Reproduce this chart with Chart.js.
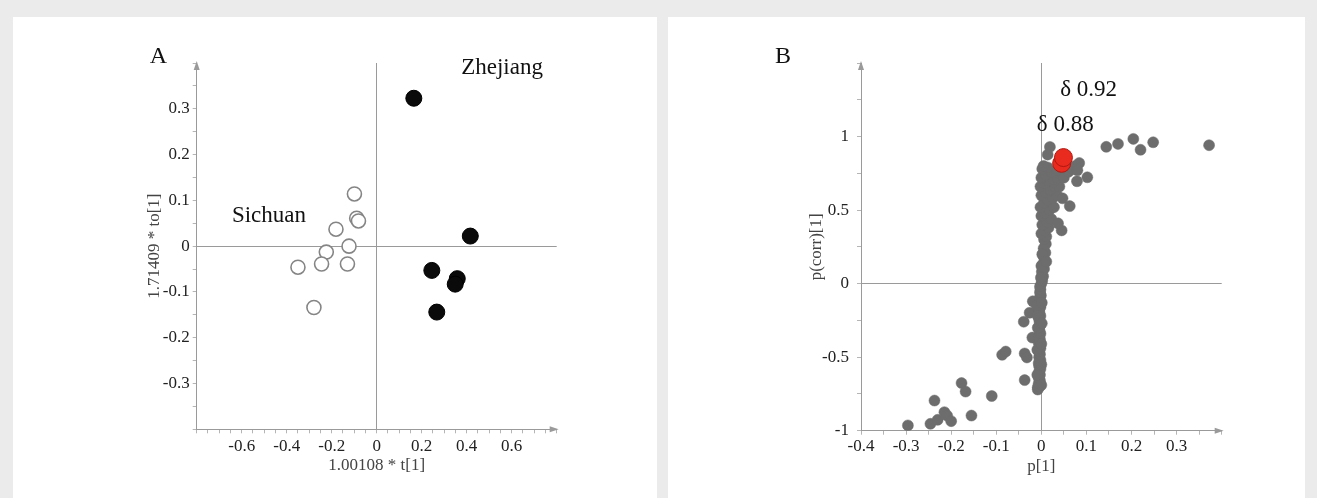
<!DOCTYPE html>
<html>
<head>
<meta charset="utf-8">
<script src="https://cdn.jsdelivr.net/npm/chart.js@4.4.1/dist/chart.umd.min.js"></script>
<style>
  html, body { margin: 0; padding: 0; }
  body { width: 1317px; height: 498px; background: #ebebeb; position: relative; overflow: hidden; }
  .panel { position: absolute; top: 17px; height: 481px; background: #fff; }
  #panelA { left: 13px; width: 644px; }
  #panelB { left: 668px; width: 637px; }
  canvas { display: block; }
</style>
</head>
<body>
<div class="panel" id="panelA"><canvas id="chartA" width="644" height="481"></canvas></div>
<div class="panel" id="panelB"><canvas id="chartB" width="637" height="481"></canvas></div>
<script>
// Panel A: OPLS-DA scores
const sichuanT  = [-0.099, -0.089, -0.081, -0.181, -0.123, -0.224, -0.245, -0.130, -0.350, -0.279];
const sichuanTo = [0.114, 0.061, 0.055, 0.037, 0.000, -0.013, -0.039, -0.039, -0.046, -0.134];
const zhejiangT  = [0.165, 0.416, 0.245, 0.358, 0.349, 0.267];
const zhejiangTo = [0.323, 0.022, -0.053, -0.071, -0.083, -0.144];

// Panel B: S-plot, [p[1], p(corr)[1]]
const sPlotPoints = [
  // lower tail
  [-0.296, -0.964], [-0.246, -0.953], [-0.230, -0.926], [-0.237, -0.795], [-0.215, -0.874],
  [-0.209, -0.897], [-0.200, -0.935], [-0.177, -0.676], [-0.168, -0.734], [-0.155, -0.897],
  [-0.110, -0.764], [-0.087, -0.484], [-0.079, -0.462], [-0.037, -0.656], [-0.037, -0.475],
  [-0.032, -0.502], [-0.020, -0.367], [-0.039, -0.259], [-0.026, -0.198], [-0.019, -0.120],
  [-0.008, -0.705],
  // central column below zero
  [-0.008, -0.72], [-0.004, -0.70], [-0.006, -0.68], [-0.003, -0.66], [-0.006, -0.64],
  [-0.003, -0.62], [-0.005, -0.60], [-0.002, -0.58], [-0.005, -0.56], [-0.006, -0.54],
  [-0.002, -0.52], [-0.005, -0.50], [-0.003, -0.48], [-0.006, -0.46], [-0.002, -0.44],
  [-0.004, -0.42], [-0.006, -0.40], [-0.003, -0.38], [-0.005, -0.36], [-0.002, -0.34],
  [-0.004, -0.32], [-0.006, -0.30], [-0.002, -0.28], [-0.004, -0.26], [-0.005, -0.24],
  [-0.002, -0.22], [-0.004, -0.20], [-0.005, -0.18], [-0.002, -0.16], [-0.004, -0.14],
  [-0.003, -0.12], [-0.004, -0.10], [-0.001, -0.08], [-0.003, -0.06], [-0.002, -0.04],
  [-0.003, -0.02], [0.000, 0.00], [-0.009, -0.62], [-0.009, -0.45], [-0.008, -0.30],
  [-0.010, -0.15], [-0.008, -0.22], [0.000, -0.69], [0.000, -0.55], [0.000, -0.41],
  [0.001, -0.27], [0.001, -0.13],
  // column above zero
  [0.002, 0.02], [0.004, 0.05], [0.001, 0.08], [0.006, 0.10], [0.003, 0.13],
  [0.007, 0.16], [0.004, 0.19], [0.009, 0.21], [0.005, 0.24], [0.010, 0.27],
  [0.006, 0.30], [0.011, 0.32], [-0.001, 0.04], [0.000, 0.12], [0.002, 0.20],
  [0.011, 0.15],
  // upper cluster
  [0.000, 0.34], [0.008, 0.36], [0.016, 0.38], [0.002, 0.40], [0.012, 0.42],
  [0.022, 0.44], [0.000, 0.46], [0.008, 0.48], [0.018, 0.50], [0.028, 0.52],
  [-0.002, 0.52], [0.006, 0.55], [0.014, 0.57], [0.025, 0.58], [0.035, 0.60],
  [0.000, 0.60], [0.010, 0.62], [0.020, 0.64], [0.030, 0.66], [0.040, 0.66],
  [-0.002, 0.66], [0.006, 0.68], [0.016, 0.70], [0.026, 0.71], [0.036, 0.72],
  [0.050, 0.72], [0.000, 0.72], [0.010, 0.74], [0.022, 0.76], [0.034, 0.77],
  [0.060, 0.76], [0.070, 0.78], [0.002, 0.78], [0.014, 0.79], [0.045, 0.79],
  [0.075, 0.80], [0.005, 0.80], [0.045, 0.362], [0.037, 0.41], [0.063, 0.527],
  [0.047, 0.58], [0.079, 0.696], [0.102, 0.723], [0.084, 0.82], [0.080, 0.77],
  [0.019, 0.929], [0.014, 0.877],
  // upper tail
  [0.144, 0.930], [0.170, 0.950], [0.204, 0.984], [0.220, 0.910], [0.248, 0.961],
  [0.372, 0.941]
];
const highlightPoints = [[0.045, 0.818], [0.049, 0.857]];

const serif = "'Liberation Serif', 'Times New Roman', serif";

function toXY(pairs) {
  return pairs.map(p => ({ x: p[0], y: p[1] }));
}
function zip(xs, ys) {
  return xs.map((x, i) => ({ x: x, y: ys[i] }));
}
function isMultiple(v, step) {
  const r = v / step;
  return Math.abs(r - Math.round(r)) < 1e-6;
}
function fmt(v) {
  const r = Math.round(v * 100) / 100;
  return String(r === 0 ? 0 : r);
}

// arrowheads at the end of both axes
const axisArrows = {
  id: 'axisArrows',
  afterDraw(chart) {
    const { ctx, chartArea: a } = chart;
    ctx.save();
    ctx.fillStyle = '#9a9a9a';
    ctx.beginPath();
    ctx.moveTo(a.left, a.top - 2);
    ctx.lineTo(a.left - 3, a.top + 7);
    ctx.lineTo(a.left + 3, a.top + 7);
    ctx.closePath();
    ctx.fill();
    ctx.beginPath();
    ctx.moveTo(a.right + 2, a.bottom);
    ctx.lineTo(a.right - 7, a.bottom - 3);
    ctx.lineTo(a.right - 7, a.bottom + 3);
    ctx.closePath();
    ctx.fill();
    ctx.restore();
  }
};

// panel letter and text notes
const panelText = {
  id: 'panelText',
  afterDraw(chart, args, opts) {
    const { ctx, chartArea: a, scales } = chart;
    ctx.save();
    ctx.fillStyle = '#111';
    ctx.textBaseline = 'alphabetic';
    ctx.font = '24px ' + serif;
    ctx.textAlign = 'left';
    ctx.fillText(opts.letter, a.left + opts.letterDx, a.top);
    ctx.font = opts.noteSize + 'px ' + serif;
    ctx.textAlign = 'center';
    opts.notes.forEach(n => {
      ctx.fillText(n.text, scales.x.getPixelForValue(n.x), scales.y.getPixelForValue(n.y));
    });
    ctx.restore();
  }
};

function axis(min, max, step, labelStep, hideBelow, hideAbove, title, titlePad, tickPad, fixed, isX) {
  return {
    type: 'linear',
    min: min,
    max: max,
    afterFit: s => { if (isX) s.height = fixed; else s.width = fixed; },
    border: { color: '#9a9a9a', width: 1 },
    grid: {
      color: c => (c.tick && Math.abs(c.tick.value) < 1e-9) ? '#9a9a9a' : 'rgba(0,0,0,0)',
      tickColor: '#b5b5b5',
      tickLength: 4,
      lineWidth: 1
    },
    ticks: {
      stepSize: step,
      autoSkip: false,
      maxRotation: 0,
      padding: tickPad,
      color: '#222',
      font: { family: serif, size: 17 },
      callback: v => (isMultiple(v, labelStep) && v > hideBelow && v < hideAbove) ? fmt(v) : ''
    },
    title: {
      display: true,
      text: title,
      color: '#444',
      padding: isX ? { top: 0, bottom: titlePad } : { top: titlePad, bottom: 0 },
      font: { family: serif, size: 17 }
    }
  };
}

Chart.defaults.font.family = serif;

new Chart(document.getElementById('chartA').getContext('2d'), {
  type: 'scatter',
  data: {
    datasets: [{
      label: 'Zhejiang',
      data: zip(zhejiangT, zhejiangTo),
      pointRadius: 8,
      backgroundColor: '#0a0a0a',
      borderColor: '#000',
      borderWidth: 1
    }, {
      label: 'Sichuan',
      data: zip(sichuanT, sichuanTo),
      pointRadius: 7,
      backgroundColor: '#fff',
      borderColor: '#858585',
      borderWidth: 1.6
    }]
  },
  options: {
    responsive: false,
    animation: false,
    layout: { padding: { left: 123.7, right: 100.3, top: 46, bottom: 18.7 } },
    plugins: {
      legend: { display: false },
      tooltip: { enabled: false },
      panelText: {
        letter: 'A',
        letterDx: -47,
        noteSize: 23,
        notes: [
          { text: 'Zhejiang', x: 0.557, y: 0.375 },
          { text: 'Sichuan', x: -0.479, y: 0.052 }
        ]
      }
    },
    scales: {
      x: axis(-0.8, 0.8, 0.05, 0.2, -0.75, 0.75, '1.00108 * t[1]', 3.4, 3, 50, true),
      y: axis(-0.4, 0.4, 0.05, 0.1, -0.35, 0.35, '1.71409 * to[1]', 8, 3, 60, false)
    }
  },
  plugins: [axisArrows, panelText]
});

new Chart(document.getElementById('chartB').getContext('2d'), {
  type: 'scatter',
  data: {
    datasets: [{
      label: 'δ 0.88 / δ 0.92',
      data: toXY(highlightPoints),
      pointRadius: 9,
      backgroundColor: '#e82a1f',
      borderColor: '#b3170f',
      borderWidth: 1
    }, {
      label: 'variables',
      data: toXY(sPlotPoints),
      pointRadius: 5.5,
      backgroundColor: '#6d6d6d',
      borderColor: '#6d6d6d',
      borderWidth: 0.5
    }]
  },
  options: {
    responsive: false,
    animation: false,
    layout: { padding: { left: 133, right: 83.3, top: 46, bottom: 17.3 } },
    plugins: {
      legend: { display: false },
      tooltip: { enabled: false },
      panelText: {
        letter: 'B',
        letterDx: -86,
        noteSize: 23,
        notes: [
          { text: 'δ 0.92', x: 0.105, y: 1.277 },
          { text: 'δ 0.88', x: 0.053, y: 1.04 }
        ]
      }
    },
    scales: {
      x: axis(-0.4, 0.4, 0.05, 0.1, -0.45, 0.35, 'p[1]', 3.8, 2, 50, true),
      y: axis(-1, 1.5, 0.25, 0.5, -1.1, 1.25, 'p(corr)[1]', 5.8, 8, 60, false)
    }
  },
  plugins: [axisArrows, panelText]
});
</script>
</body>
</html>
